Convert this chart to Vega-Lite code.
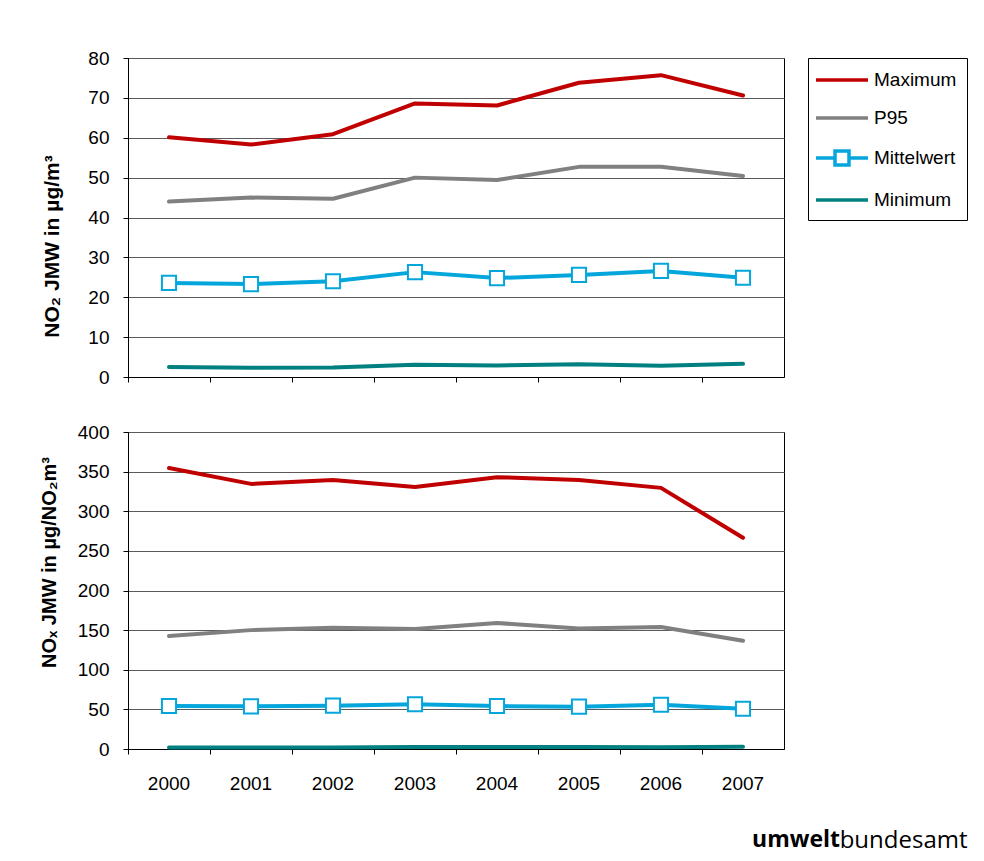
{
  "$schema": "https://vega.github.io/schema/vega-lite/v6.json",
  "background": "white",
  "padding": {"left": 38, "top": 48, "right": 10, "bottom": 10},
  "spacing": 55,
  "bounds": "flush",
  "title": {"text": "bundesamt", "orient": "bottom", "anchor": "end", "fontSize": 24, "font": "Open Sans", "fontWeight": "normal", "color": "black", "offset": 0, "dy": -24},
  "config": {
    "font": "Liberation Sans",
    "view": {"stroke": "black", "strokeWidth": 1},
    "axis": {"labelFont": "Liberation Sans", "labelColor": "black", "labelFontSize": 19, "labelOverlap": false, "tickColor": "black", "domainColor": "black", "titleColor": "black", "titleFont": "Liberation Sans", "titleFontSize": 18, "titleFontWeight": "bold", "gridColor": "#5a5a5a", "gridWidth": 1, "tickSize": 5},
    "legend": {"title": null, "orient": "right", "offset": -33, "strokeColor": "black", "strokeWidth": 1, "padding": 10, "labelFontSize": 19, "labelFont": "Liberation Sans", "labelColor": "black", "symbolType": "M-2.6,0H2.6", "symbolSize": 400, "symbolStrokeWidth": 3.5, "symbolOffset": 12, "labelOffset": 20, "rowPadding": 16}
  },
  "data": {"values": [
    {"panel": "NO2", "series": "Maximum", "year": "2000", "value": 60.1},
    {"panel": "NO2", "series": "Maximum", "year": "2001", "value": 58.3},
    {"panel": "NO2", "series": "Maximum", "year": "2002", "value": 60.9},
    {"panel": "NO2", "series": "Maximum", "year": "2003", "value": 68.6},
    {"panel": "NO2", "series": "Maximum", "year": "2004", "value": 68.1},
    {"panel": "NO2", "series": "Maximum", "year": "2005", "value": 73.8},
    {"panel": "NO2", "series": "Maximum", "year": "2006", "value": 75.7},
    {"panel": "NO2", "series": "Maximum", "year": "2007", "value": 70.6},
    {"panel": "NO2", "series": "P95", "year": "2000", "value": 44.0},
    {"panel": "NO2", "series": "P95", "year": "2001", "value": 45.0},
    {"panel": "NO2", "series": "P95", "year": "2002", "value": 44.7},
    {"panel": "NO2", "series": "P95", "year": "2003", "value": 50.0},
    {"panel": "NO2", "series": "P95", "year": "2004", "value": 49.4},
    {"panel": "NO2", "series": "P95", "year": "2005", "value": 52.7},
    {"panel": "NO2", "series": "P95", "year": "2006", "value": 52.7},
    {"panel": "NO2", "series": "P95", "year": "2007", "value": 50.4},
    {"panel": "NO2", "series": "Mittelwert", "year": "2000", "value": 23.6},
    {"panel": "NO2", "series": "Mittelwert", "year": "2001", "value": 23.3},
    {"panel": "NO2", "series": "Mittelwert", "year": "2002", "value": 24.0},
    {"panel": "NO2", "series": "Mittelwert", "year": "2003", "value": 26.3},
    {"panel": "NO2", "series": "Mittelwert", "year": "2004", "value": 24.8},
    {"panel": "NO2", "series": "Mittelwert", "year": "2005", "value": 25.6},
    {"panel": "NO2", "series": "Mittelwert", "year": "2006", "value": 26.6},
    {"panel": "NO2", "series": "Mittelwert", "year": "2007", "value": 24.9},
    {"panel": "NO2", "series": "Minimum", "year": "2000", "value": 2.5},
    {"panel": "NO2", "series": "Minimum", "year": "2001", "value": 2.3},
    {"panel": "NO2", "series": "Minimum", "year": "2002", "value": 2.4},
    {"panel": "NO2", "series": "Minimum", "year": "2003", "value": 3.1},
    {"panel": "NO2", "series": "Minimum", "year": "2004", "value": 2.9},
    {"panel": "NO2", "series": "Minimum", "year": "2005", "value": 3.2},
    {"panel": "NO2", "series": "Minimum", "year": "2006", "value": 2.8},
    {"panel": "NO2", "series": "Minimum", "year": "2007", "value": 3.3},
    {"panel": "NOx", "series": "Maximum", "year": "2000", "value": 354.5},
    {"panel": "NOx", "series": "Maximum", "year": "2001", "value": 334.5},
    {"panel": "NOx", "series": "Maximum", "year": "2002", "value": 339.5},
    {"panel": "NOx", "series": "Maximum", "year": "2003", "value": 330.5},
    {"panel": "NOx", "series": "Maximum", "year": "2004", "value": 343.0},
    {"panel": "NOx", "series": "Maximum", "year": "2005", "value": 339.5},
    {"panel": "NOx", "series": "Maximum", "year": "2006", "value": 329.5},
    {"panel": "NOx", "series": "Maximum", "year": "2007", "value": 266.5},
    {"panel": "NOx", "series": "P95", "year": "2000", "value": 142.5},
    {"panel": "NOx", "series": "P95", "year": "2001", "value": 150.0},
    {"panel": "NOx", "series": "P95", "year": "2002", "value": 153.0},
    {"panel": "NOx", "series": "P95", "year": "2003", "value": 151.5},
    {"panel": "NOx", "series": "P95", "year": "2004", "value": 159.0},
    {"panel": "NOx", "series": "P95", "year": "2005", "value": 152.0},
    {"panel": "NOx", "series": "P95", "year": "2006", "value": 154.0},
    {"panel": "NOx", "series": "P95", "year": "2007", "value": 136.5},
    {"panel": "NOx", "series": "Mittelwert", "year": "2000", "value": 54.2},
    {"panel": "NOx", "series": "Mittelwert", "year": "2001", "value": 53.8},
    {"panel": "NOx", "series": "Mittelwert", "year": "2002", "value": 54.7},
    {"panel": "NOx", "series": "Mittelwert", "year": "2003", "value": 56.4},
    {"panel": "NOx", "series": "Mittelwert", "year": "2004", "value": 54.2},
    {"panel": "NOx", "series": "Mittelwert", "year": "2005", "value": 53.4},
    {"panel": "NOx", "series": "Mittelwert", "year": "2006", "value": 55.9},
    {"panel": "NOx", "series": "Mittelwert", "year": "2007", "value": 50.8},
    {"panel": "NOx", "series": "Minimum", "year": "2000", "value": 2.0},
    {"panel": "NOx", "series": "Minimum", "year": "2001", "value": 1.8},
    {"panel": "NOx", "series": "Minimum", "year": "2002", "value": 1.9},
    {"panel": "NOx", "series": "Minimum", "year": "2003", "value": 2.5},
    {"panel": "NOx", "series": "Minimum", "year": "2004", "value": 2.4},
    {"panel": "NOx", "series": "Minimum", "year": "2005", "value": 2.6},
    {"panel": "NOx", "series": "Minimum", "year": "2006", "value": 2.3},
    {"panel": "NOx", "series": "Minimum", "year": "2007", "value": 2.8}
  ]},
  "vconcat": [
    {
      "width": 656, "height": 319,
      "transform": [{"filter": "datum.panel === 'NO2'"}],
      "encoding": {
        "x": {"field": "year", "type": "ordinal", "bandPosition": 0.5, "scale": {"type": "band", "paddingInner": 0, "paddingOuter": 0}, "axis": {"labels": false, "title": null, "bandPosition": 0, "grid": false, "ticks": true}},
        "y": {"field": "value", "type": "quantitative", "scale": {"domain": [0, 80], "nice": false}, "axis": {"values": [0, 10, 20, 30, 40, 50, 60, 70, 80], "title": "NO₂ JMW in µg/m³", "titleFontSize": 21, "grid": true, "labelPadding": 14, "titleAngle": -90, "titleBaseline": "middle", "titleX": -76, "titleY": 188}}
      },
      "layer": [
        {
          "mark": {"type": "line", "strokeWidth": 4, "strokeCap": "round", "strokeJoin": "round"},
          "encoding": {
            "color": {"field": "series", "type": "nominal", "scale": {"domain": ["Maximum", "P95", "Mittelwert", "Minimum"], "range": ["#C00000", "#808080", "#04A6DC", "#008080"]},
              "legend": {"encode": {"symbols": {"update": {"shape": {"signal": "datum.value === 'Mittelwert' ? 'M-2.6,0H-0.7M0.7,0H2.6M-0.7,-0.7H0.7V0.7H-0.7Z' : 'M-2.6,0H2.6'"}, "fill": {"value": "white"}, "opacity": {"value": 1}}}}}}
          }
        },
        {
          "transform": [{"filter": "datum.series === 'Mittelwert'"}],
          "mark": {"type": "point", "shape": "square", "filled": true, "fill": "white", "stroke": "#04A6DC", "strokeWidth": 2, "size": 200, "opacity": 1},
          "encoding": {}
        }
      ]
    },
    {
      "width": 656, "height": 317,
      "title": {"text": "umwelt", "orient": "bottom", "anchor": "end", "dx": 56, "fontSize": 23, "font": "Open Sans", "fontWeight": "bold", "color": "black", "offset": 36},
      "transform": [{"filter": "datum.panel === 'NOx'"}],
      "encoding": {
        "x": {"field": "year", "type": "ordinal", "bandPosition": 0.5, "scale": {"type": "band", "paddingInner": 0, "paddingOuter": 0}, "axis": {"labels": true, "labelAngle": 0, "labelPadding": 20, "title": null, "bandPosition": 0, "grid": false, "ticks": true}},
        "y": {"field": "value", "type": "quantitative", "scale": {"domain": [0, 400], "nice": false}, "axis": {"values": [0, 50, 100, 150, 200, 250, 300, 350, 400], "title": "NOₓ JMW  in µg/NO₂m³", "titleFontSize": 20, "grid": true, "labelPadding": 14, "titleAngle": -90, "titleBaseline": "middle", "titleX": -79, "titleY": 130}}
      },
      "layer": [
        {
          "mark": {"type": "line", "strokeWidth": 4, "strokeCap": "round", "strokeJoin": "round"},
          "encoding": {
            "color": {"field": "series", "type": "nominal", "scale": {"domain": ["Maximum", "P95", "Mittelwert", "Minimum"], "range": ["#C00000", "#808080", "#04A6DC", "#008080"]},
              "legend": {"encode": {"symbols": {"update": {"shape": {"signal": "datum.value === 'Mittelwert' ? 'M-2.6,0H-0.7M0.7,0H2.6M-0.7,-0.7H0.7V0.7H-0.7Z' : 'M-2.6,0H2.6'"}, "fill": {"value": "white"}, "opacity": {"value": 1}}}}}}
          }
        },
        {
          "transform": [{"filter": "datum.series === 'Mittelwert'"}],
          "mark": {"type": "point", "shape": "square", "filled": true, "fill": "white", "stroke": "#04A6DC", "strokeWidth": 2, "size": 200, "opacity": 1},
          "encoding": {}
        }
      ]
    }
  ],
  "resolve": {"scale": {"color": "shared"}, "legend": {"color": "shared"}}
}
